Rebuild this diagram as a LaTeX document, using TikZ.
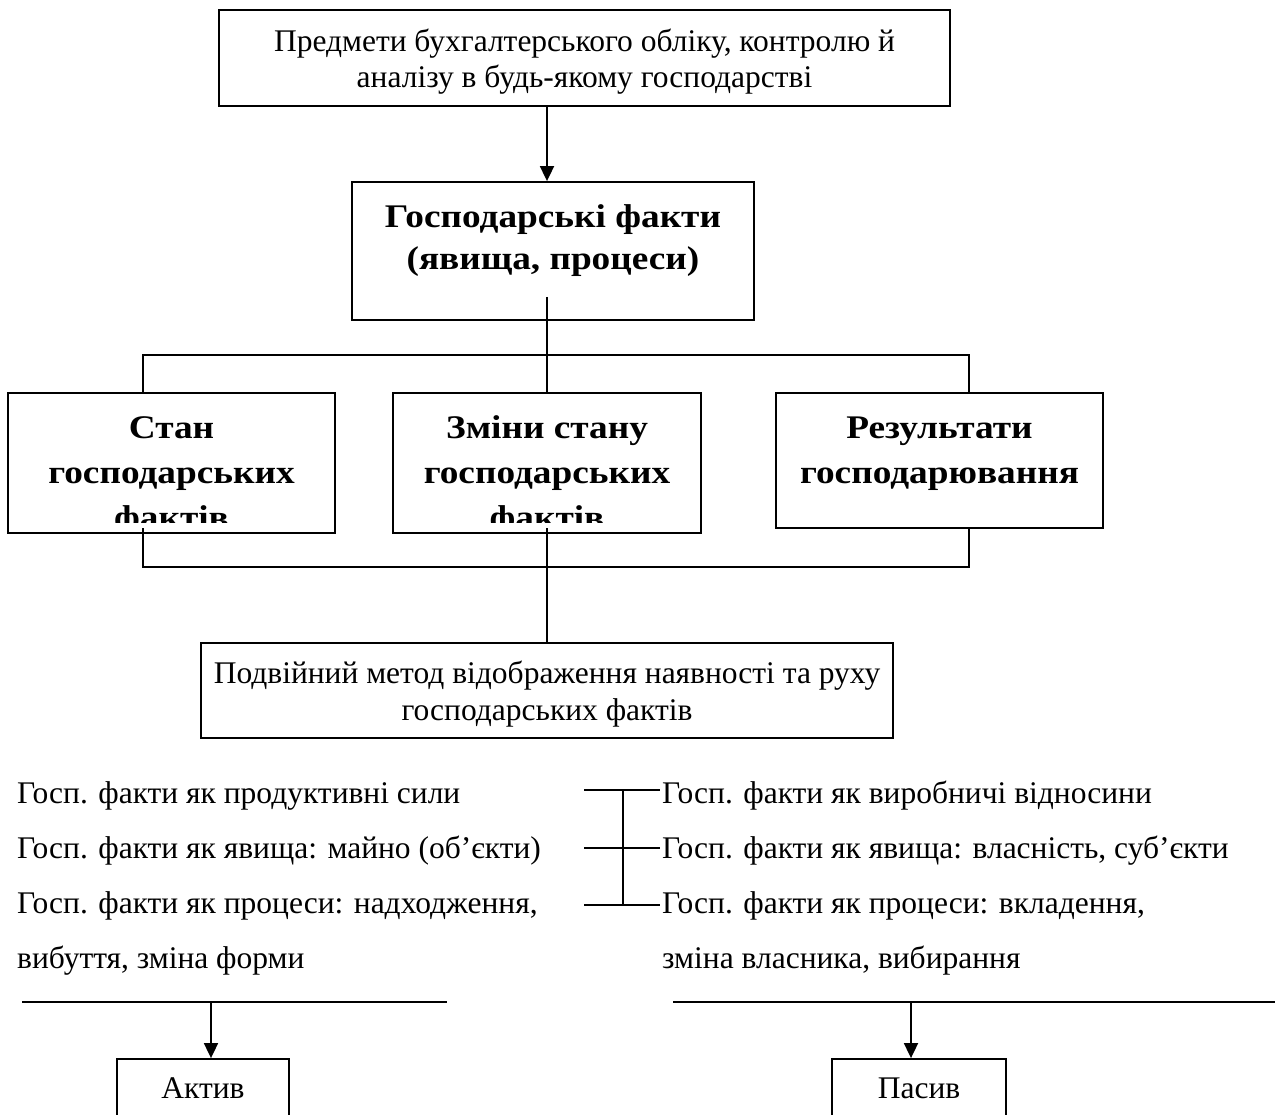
\documentclass[tikz,border=0pt]{standalone}
\usepackage{fontspec}
\setmainfont{Liberation Serif}
\newfontfamily\heavyfont[FakeStretch=1.13]{Liberation Serif}
\usetikzlibrary{arrows.meta}

\tikzset{
  box/.style={draw, line width=1.8pt, inner sep=0pt},
  usual/.style={font=\fontsize{31.5}{36}\selectfont, align=center, inner sep=0pt},
  heavy/.style={font=\heavyfont\fontsize{33}{45}\selectfont\bfseries, align=center, inner sep=0pt},
  listtext/.style={font=\fontsize{31.5}{36}\selectfont, inner sep=0pt, anchor=base west},
  wire/.style={line width=1.8pt},
  arrowwire/.style={wire, -{Triangle[length=15pt,width=14pt]}},
}

\begin{document}
\begin{tikzpicture}[x=1pt, y=-1pt]
  \useasboundingbox (0,0) rectangle (1275,1115);
  \clip (0,0) rectangle (1275,1115);
  \coordinate (spine) at (547,0);

  %top
  \node[box, minimum width=731pt, minimum height=96pt] (predm) at (584.5,58) {};
  \node[usual, anchor=base] (predmT) at (584.5,88) {Предмети бухгалтерського обліку, контролю й\\аналізу в будь-якому господарстві};

  %facts
  \node[box, minimum width=402pt, minimum height=138pt] (gosp) at (553,251) {};
  \node[heavy, anchor=base, font=\heavyfont\fontsize{33}{42}\selectfont\bfseries] (gospT) at (553,270) {Господарські факти\\(явища, процеси)};
  \draw[arrowwire] (predm.south -| spine) -- (gosp.north -| spine);

  %three boxes
  \node[box, minimum width=327pt, minimum height=140pt] (stan) at (171.5,463) {};
  \node[box, minimum width=308pt, minimum height=140pt] (zminy) at (547,463) {};
  \node[box, minimum width=327pt, minimum height=135pt] (rez) at (939.5,460.5) {};
  \begin{scope}
    \clip (0,393) rectangle (1275,522);
    \node[heavy, anchor=base] (stanT) at (171.5,528) {Стан\\господарських\\фактів};
    \node[heavy, anchor=base] (zminyT) at (547,528) {Зміни стану\\господарських\\фактів};
  \end{scope}
  \node[heavy, anchor=base] (rezT) at (939.5,483) {Результати\\господарювання};

  %upper bar
  \coordinate (gospIn) at (547,297);
  \coordinate (barL) at (143,355);
  \coordinate (barR) at (969,355);
  \draw[wire] (gospIn) -- (zminy.north -| spine);
  \draw[wire] (stan.north -| barL) -- (barL) -- (barR) -- (rez.north -| barR);

  %lower bar
  \coordinate (stanIn) at (143,528);
  \coordinate (zminyIn) at (547,528);
  \coordinate (lowL) at (143,567);
  \coordinate (lowR) at (969,567);
  \node[box, minimum width=692pt, minimum height=95pt] (podv) at (547,690.5) {};
  \node[usual, anchor=base, font=\fontsize{31.5}{37}\selectfont] (podvT) at (547,720) {Подвійний метод відображення наявності та руху\\господарських фактів};
  \draw[wire] (stanIn) -- (lowL) -- (lowR) -- (rez.south -| lowR);
  \draw[wire] (zminyIn) -- (podv.north -| spine);

  %lists
  \node[listtext] (lp1) at (17,803) {Госп. факти як продуктивні сили};
  \node[listtext] (lp2) at (17,858) {Госп. факти як явища: майно (об’єкти)};
  \node[listtext] (lp3) at (17,913) {Госп. факти як процеси: надходження,};
  \node[listtext] (lp4) at (17,968) {вибуття, зміна форми};
  \node[listtext] (rp1) at (662,803) {Госп. факти як виробничі відносини};
  \node[listtext] (rp2) at (662,858) {Госп. факти як явища: власність, суб’єкти};
  \node[listtext] (rp3) at (662,913) {Госп. факти як процеси: вкладення,};
  \node[listtext] (rp4) at (662,968) {зміна власника, вибирання};

  %bracket
  \coordinate (brL1) at (584,790);
  \coordinate (brL2) at (584,848);
  \coordinate (brL3) at (584,905);
  \coordinate (brR1) at (660,790);
  \coordinate (brR2) at (660,848);
  \coordinate (brR3) at (660,905);
  \coordinate (brM1) at (623,790);
  \coordinate (brM3) at (623,905);
  \draw[wire] (brL1) -- (brR1);
  \draw[wire] (brL2) -- (brR2);
  \draw[wire] (brL3) -- (brR3);
  \draw[wire] (brM1) -- (brM3);

  %active
  \coordinate (aktL) at (22,1002);
  \coordinate (aktR) at (447,1002);
  \coordinate (aktTop) at (211,1002);
  \node[box, minimum width=172pt, minimum height=100pt] (aktiv) at (203,1109) {};
  \node[usual, anchor=base] (aktivT) at (203,1098) {Актив};
  \draw[wire] (aktL) -- (aktR);
  \draw[arrowwire] (aktTop) -- (aktiv.north -| aktTop);

  %passive
  \coordinate (pasL) at (673,1002);
  \coordinate (pasR) at (1280,1002);
  \coordinate (pasTop) at (911,1002);
  \node[box, minimum width=174pt, minimum height=100pt] (pasyv) at (919,1109) {};
  \node[usual, anchor=base] (pasyvT) at (919,1098) {Пасив};
  \draw[wire] (pasL) -- (pasR);
  \draw[arrowwire] (pasTop) -- (pasyv.north -| pasTop);
\end{tikzpicture}
\end{document}
